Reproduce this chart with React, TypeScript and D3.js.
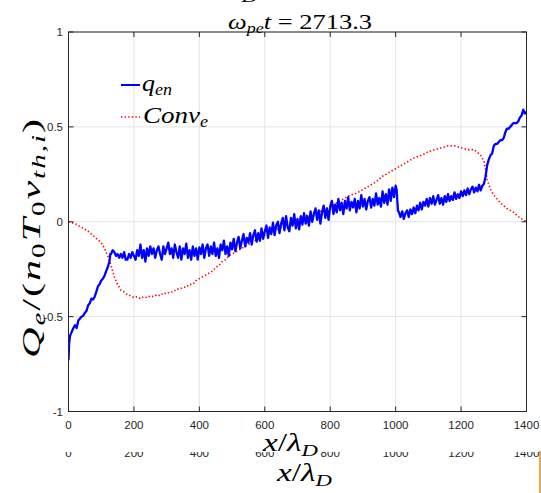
import React from "react";
import * as d3 from "d3";

const xTicks = [0, 200, 400, 600, 800, 1000, 1200, 1400];
const yTicks = [-1, -0.5, 0, 0.5, 1];
const yTickLabels = ["-1", "-0.5", "0", "0.5", "1"];

// q_en (blue): [x, value]
const qenPoints: [number, number][] = [
  [0, -0.73], [2, -0.64], [5, -0.6], [10, -0.58], [15, -0.56], [20, -0.545], [25, -0.56], [30, -0.52], [35, -0.51], [40, -0.5],
  [45, -0.495], [50, -0.48], [55, -0.47], [60, -0.44], [65, -0.43], [70, -0.405], [75, -0.41], [80, -0.395], [85, -0.37], [90, -0.34],
  [95, -0.33], [100, -0.31], [105, -0.3], [110, -0.285], [115, -0.26], [120, -0.24], [125, -0.21], [128, -0.17],
  [130, -0.17], [135, -0.15], [140, -0.16], [145, -0.18], [150, -0.17], [155, -0.19], [160, -0.17], [165, -0.19], [170, -0.16], [175, -0.2],
  [180, -0.2], [185, -0.17], [190, -0.19], [195, -0.16], [200, -0.18], [205, -0.2], [210, -0.15], [215, -0.18], [220, -0.12], [225, -0.19],
  [230, -0.15], [235, -0.21], [240, -0.14], [245, -0.18], [250, -0.13], [255, -0.17], [260, -0.14], [265, -0.19], [270, -0.15], [275, -0.13],
  [280, -0.17], [285, -0.2], [290, -0.13], [295, -0.17], [300, -0.14], [305, -0.11], [310, -0.17], [315, -0.14], [320, -0.19], [325, -0.12],
  [330, -0.16], [335, -0.19], [340, -0.13], [345, -0.2], [350, -0.14], [355, -0.17], [360, -0.115], [365, -0.19], [370, -0.15], [375, -0.2],
  [380, -0.13], [385, -0.18], [390, -0.14], [395, -0.2], [400, -0.135], [405, -0.17], [410, -0.12], [415, -0.19], [420, -0.14], [425, -0.12],
  [430, -0.18], [435, -0.13], [440, -0.17], [445, -0.11], [450, -0.18], [455, -0.14], [460, -0.19], [465, -0.12], [470, -0.15], [475, -0.1],
  [480, -0.17], [485, -0.13], [490, -0.18], [495, -0.11], [500, -0.145], [505, -0.09], [510, -0.155], [515, -0.11], [520, -0.08], [525, -0.14],
  [530, -0.1], [535, -0.065], [540, -0.13], [545, -0.085], [550, -0.11], [555, -0.06], [560, -0.12], [565, -0.07], [570, -0.045], [575, -0.105],
  [580, -0.06], [585, -0.1], [590, -0.035], [595, -0.09], [600, -0.05], [605, -0.02], [610, -0.085], [615, -0.03], [620, -0.065], [625, -0.005],
  [630, -0.07], [635, -0.02], [640, 0.0], [645, -0.06], [650, -0.01], [655, 0.02], [660, -0.045], [665, 0.03], [670, -0.03], [675, -0.05],
  [680, 0.02], [685, -0.02], [690, 0.04], [695, -0.035], [700, 0.015], [705, -0.04], [710, 0.03], [715, -0.015], [720, 0.045], [725, -0.01],
  [730, 0.03], [735, -0.02], [740, 0.055], [745, 0.0], [750, 0.04], [755, 0.07], [760, 0.01], [765, 0.06], [770, -0.01], [775, 0.05],
  [780, 0.085], [785, 0.02], [790, 0.07], [795, 0.01], [800, 0.08], [805, 0.11], [810, 0.04], [815, 0.09], [820, 0.05], [825, 0.12],
  [830, 0.06], [835, 0.1], [840, 0.04], [845, 0.11], [850, 0.07], [855, 0.13], [860, 0.06], [865, 0.105], [870, 0.075], [875, 0.12],
  [880, 0.05], [885, 0.11], [890, 0.07], [895, 0.14], [900, 0.08], [905, 0.12], [910, 0.065], [915, 0.11], [920, 0.13], [925, 0.075],
  [930, 0.12], [935, 0.085], [940, 0.15], [945, 0.09], [950, 0.125], [955, 0.08], [960, 0.16], [965, 0.1], [970, 0.145], [975, 0.09],
  [980, 0.17], [985, 0.11], [990, 0.18], [995, 0.13], [1000, 0.19], [1003, 0.17], [1007, 0.06],
  [1010, 0.05], [1015, 0.025], [1020, 0.055], [1025, 0.015], [1030, 0.045], [1035, 0.06], [1040, 0.025], [1045, 0.065], [1050, 0.04], [1055, 0.075],
  [1060, 0.045], [1065, 0.085], [1070, 0.06], [1075, 0.1], [1080, 0.065], [1085, 0.105], [1090, 0.085], [1095, 0.12], [1100, 0.08], [1105, 0.125],
  [1110, 0.095], [1115, 0.135], [1120, 0.09], [1125, 0.115], [1130, 0.14], [1135, 0.095], [1140, 0.125], [1145, 0.09], [1150, 0.135], [1155, 0.105],
  [1160, 0.145], [1165, 0.11], [1170, 0.135], [1175, 0.115], [1180, 0.155], [1185, 0.12], [1190, 0.145], [1195, 0.125], [1200, 0.16], [1205, 0.135],
  [1210, 0.165], [1215, 0.14], [1220, 0.175], [1225, 0.145], [1230, 0.17], [1235, 0.185], [1240, 0.155], [1245, 0.18], [1250, 0.16], [1255, 0.195],
  [1260, 0.165], [1265, 0.19], [1270, 0.2], [1275, 0.24], [1280, 0.3], [1285, 0.33], [1290, 0.35], [1295, 0.36], [1300, 0.4], [1305, 0.41],
  [1310, 0.41], [1315, 0.42], [1320, 0.43], [1325, 0.43], [1330, 0.44], [1335, 0.47], [1340, 0.49], [1345, 0.49], [1350, 0.5], [1355, 0.51],
  [1360, 0.52], [1365, 0.52], [1370, 0.52], [1375, 0.53], [1380, 0.55], [1385, 0.56], [1390, 0.59], [1395, 0.57], [1400, 0.58],
];

// Conv_e (red dotted): [x, value]
const convPoints: [number, number][] = [
  [0, 0.0], [20, -0.01], [40, -0.03], [60, -0.05], [80, -0.08], [100, -0.11], [110, -0.14], [120, -0.18], [130, -0.23], [140, -0.29],
  [150, -0.33], [160, -0.36], [170, -0.37], [180, -0.385], [190, -0.39], [200, -0.4], [210, -0.395], [220, -0.405], [230, -0.395], [240, -0.4],
  [250, -0.39], [260, -0.395], [270, -0.385], [280, -0.39], [290, -0.375], [300, -0.38], [310, -0.37], [320, -0.37], [330, -0.355], [340, -0.355],
  [350, -0.345], [360, -0.345], [370, -0.33], [380, -0.33], [390, -0.31], [400, -0.3], [410, -0.29], [420, -0.28], [430, -0.27], [440, -0.26],
  [450, -0.24], [460, -0.23], [470, -0.21], [480, -0.2], [490, -0.18], [500, -0.17], [520, -0.15], [540, -0.13], [560, -0.11], [580, -0.09],
  [600, -0.07], [620, -0.05], [640, -0.04], [660, -0.02], [680, 0.0], [700, 0.01], [720, 0.03], [740, 0.04], [760, 0.05], [780, 0.06],
  [800, 0.08], [820, 0.1], [840, 0.12], [860, 0.14], [880, 0.15], [900, 0.17], [920, 0.19], [940, 0.21], [960, 0.24], [980, 0.26],
  [1000, 0.28], [1020, 0.3], [1040, 0.32], [1060, 0.34], [1080, 0.35], [1100, 0.37], [1120, 0.38], [1140, 0.39], [1160, 0.4], [1180, 0.4],
  [1200, 0.39], [1220, 0.38], [1240, 0.38], [1260, 0.35], [1270, 0.32], [1280, 0.22], [1290, 0.17], [1300, 0.14], [1320, 0.1], [1340, 0.07],
  [1360, 0.05], [1380, 0.02], [1400, 0.0],
];

const L = 68.5, R = 526.5, T = 32, B = 411.5;
const axisColor = "#262626";
const serif = "'Liberation Serif', 'DejaVu Serif', serif";
const sans = "'Liberation Sans', Arial, sans-serif";

function XLabel({ x, y }: { x: number; y: number }) {
  return (
    <text x={x - 27} y={y} fontFamily={serif} fontSize={25} fill="#000" textLength={55} lengthAdjust="spacingAndGlyphs">
      <tspan fontStyle="italic">x</tspan>
      <tspan>/</tspan>
      <tspan fontStyle="italic">λ</tspan>
      <tspan fontStyle="italic" fontSize={17} dy={5}>D</tspan>
    </text>
  );
}

export default function App() {
  const x = d3.scaleLinear().domain([0, 1400]).range([L, R]);
  const y = d3.scaleLinear().domain([-1, 1]).range([B, T]);
  const line = d3.line<[number, number]>().x((d) => x(d[0])).y((d) => y(d[1]));

  return (
    <svg width={541} height={493} style={{ position: "absolute", left: 0, top: 0, background: "#fff" }}>
      <defs>
        <clipPath id="plotclip">
          <rect x={L} y={T} width={R - L} height={B - T} />
        </clipPath>
        <clipPath id="ghostclip">
          <rect x={0} y={452} width={541} height={41} />
        </clipPath>
      </defs>
      <rect x={0} y={0} width={541} height={493} fill="#fff" />
      {/* cropped fragment from previous figure */}
      <XLabel x={230} y={-3} />
      {/* grid */}
      {xTicks.map((t) => (
        <line key={"gx" + t} x1={x(t)} x2={x(t)} y1={T} y2={B} stroke="#e3e3e3" strokeWidth={1} />
      ))}
      {yTicks.map((t) => (
        <line key={"gy" + t} x1={L} x2={R} y1={y(t)} y2={y(t)} stroke="#e3e3e3" strokeWidth={1} />
      ))}
      {/* data */}
      <g clipPath="url(#plotclip)">
        <path d={line(convPoints) || ""} fill="none" stroke="#ff0000" strokeWidth={1.6} strokeDasharray="1.4 2.2" />
        <path d={line(qenPoints) || ""} fill="none" stroke="#0000ff" strokeWidth={2.3} strokeLinejoin="round" />
      </g>
      {/* box & ticks */}
      <rect x={L} y={T} width={R - L} height={B - T} fill="none" stroke={axisColor} strokeWidth={1} />
      {xTicks.map((t) => (
        <g key={"tx" + t}>
          <line x1={x(t)} x2={x(t)} y1={B} y2={B - 5} stroke={axisColor} />
          <line x1={x(t)} x2={x(t)} y1={T} y2={T + 5} stroke={axisColor} />
          <text x={x(t)} y={429} textAnchor="middle" fontFamily={sans} fontSize={11.5} fill={axisColor}>
            {t}
          </text>
        </g>
      ))}
      {yTicks.map((t, i) => (
        <g key={"ty" + t}>
          <line x1={L} x2={L + 5} y1={y(t)} y2={y(t)} stroke={axisColor} />
          <line x1={R} x2={R - 5} y1={y(t)} y2={y(t)} stroke={axisColor} />
          <text x={63} y={y(t) + 4} textAnchor="end" fontFamily={sans} fontSize={11.5} fill={axisColor}>
            {yTickLabels[i]}
          </text>
        </g>
      ))}
      {/* title */}
      <text x={228} y={29} fontFamily={serif} fontSize={22} fill="#000" textLength={144} lengthAdjust="spacingAndGlyphs">
        <tspan fontStyle="italic">ω</tspan>
        <tspan fontStyle="italic" fontSize={15} dy={4}>pe</tspan>
        <tspan fontStyle="italic" dy={-4}>t</tspan>
        <tspan> = 2713.3</tspan>
      </text>
      {/* y label */}
      <text
        transform="translate(40,358) rotate(-90)"
        fontFamily={serif}
        fontSize={26}
        letterSpacing={1.2}
        fill="#000"
        textLength={241}
        lengthAdjust="spacingAndGlyphs"
      >
        <tspan fontStyle="italic">Q</tspan>
        <tspan fontStyle="italic" fontSize={18} dy={5}>e</tspan>
        <tspan dy={-5}>/(</tspan>
        <tspan fontStyle="italic">n</tspan>
        <tspan fontSize={18} dy={5}>0</tspan>
        <tspan fontStyle="italic" dy={-5}>T</tspan>
        <tspan fontSize={18} dy={5}>0</tspan>
        <tspan fontStyle="italic" dy={-5}>v</tspan>
        <tspan fontStyle="italic" fontSize={18} dy={5}>th,i</tspan>
        <tspan dy={-5}>)</tspan>
      </text>
      {/* x label */}
      <XLabel x={290} y={451} />
      {/* legend */}
      <line x1={121} x2={140} y1={85} y2={85} stroke="#0000ff" strokeWidth={2} />
      <text x={142} y={91} fontFamily={serif} fontSize={23} fill="#000" textLength={30} lengthAdjust="spacingAndGlyphs">
        <tspan fontStyle="italic">q</tspan>
        <tspan fontStyle="italic" fontSize={16} dy={4}>en</tspan>
      </text>
      <line x1={121} x2={140} y1={117} y2={117} stroke="#ff0000" strokeWidth={1.6} strokeDasharray="1.4 2.2" />
      <text x={143} y={123} fontFamily={serif} fontSize={24} fill="#000" textLength={65} lengthAdjust="spacingAndGlyphs">
        <tspan fontStyle="italic">Conv</tspan>
        <tspan fontStyle="italic" fontSize={16} dy={4}>e</tspan>
      </text>
      {/* cropped duplicate axis below */}
      <g clipPath="url(#ghostclip)">
        {xTicks.map((t) => (
          <text key={"gt" + t} x={x(t)} y={457} textAnchor="middle" fontFamily={sans} fontSize={11.5} fill={axisColor}>
            {t}
          </text>
        ))}
      </g>
      <XLabel x={304} y={481} />
      <line x1={540} x2={540} y1={451} y2={493} stroke="#e08a1e" strokeWidth={1.5} />
    </svg>
  );
}
